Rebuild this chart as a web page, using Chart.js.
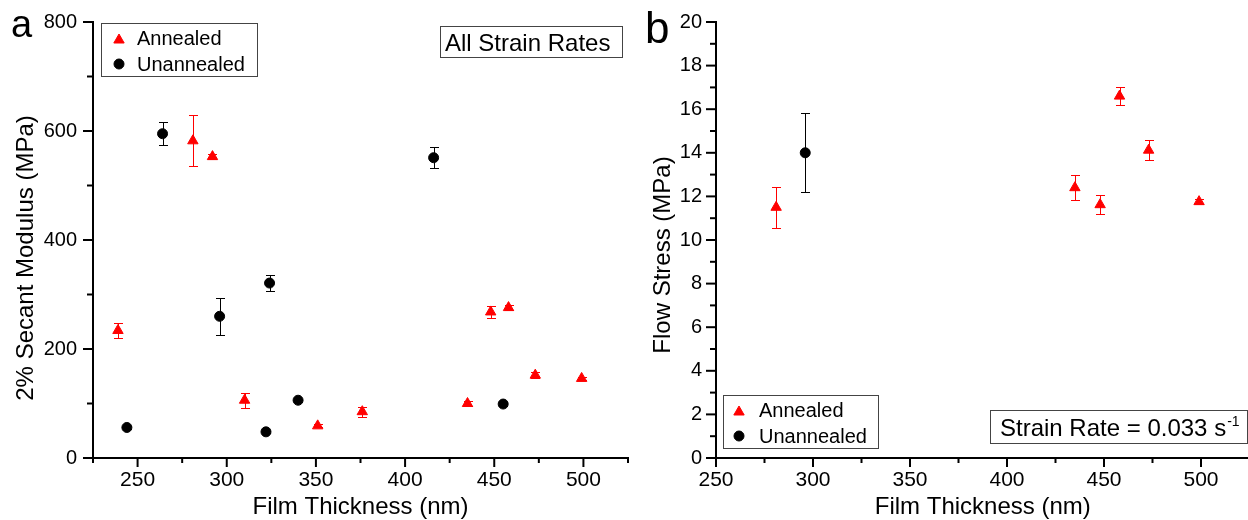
<!DOCTYPE html>
<html><head><meta charset="utf-8">
<script src="https://cdn.jsdelivr.net/npm/chart.js@4.4.0/dist/chart.umd.min.js"></script>
<style>
html,body{margin:0;padding:0;background:#fff;overflow:hidden;width:1248px;height:520px;position:relative}
#ca{position:absolute;left:0;top:0}
#cb{position:absolute;left:630px;top:0}
</style></head><body>
<canvas id="ca" width="630" height="520"></canvas>
<canvas id="cb" width="620" height="520"></canvas>
<script>
// ---------- Panel a data ----------
const annealedA_x   = [239, 281, 292, 310, 351, 376, 435, 448, 458, 473, 499];
const annealedA_y   = [234, 582, 553, 106, 59, 85, 100, 268, 276, 152, 146];
const annealedA_err = [13, 47, 5, 14, 3, 9, 4, 11, 5, 6, 3];
const unannealedA_x   = [244, 264, 296, 322, 324, 340, 416, 455];
const unannealedA_y   = [56, 595, 260, 48, 321, 106, 551, 99];
const unannealedA_err = [2, 21, 34, 2, 15, 3, 19, 3];
const xMajorA = [250, 300, 350, 400, 450, 500];
const xMinorA = [225, 275, 325, 375, 425, 475, 525];
const yMajorA = [0, 200, 400, 600, 800];
const yMinorA = [100, 300, 500, 700];

// ---------- Panel b data ----------
const annealedB_x   = [281, 435, 448, 458, 473, 499];
const annealedB_y   = [11.5, 12.4, 11.62, 16.6, 14.12, 11.76];
const annealedB_err = [0.95, 0.58, 0.43, 0.43, 0.47, 0.1];
const unannealedB_x   = [296];
const unannealedB_y   = [14.0];
const unannealedB_err = [1.82];
const xMajorB = [250, 300, 350, 400, 450, 500];
const xMinorB = [275, 325, 375, 425, 475, 525];
const yMajorB = [0, 2, 4, 6, 8, 10, 12, 14, 16, 18, 20];
const yMinorB = [1, 3, 5, 7, 9, 11, 13, 15, 17, 19];

const FONT = "'Liberation Sans', Arial, sans-serif";
const RED = '#ff0000';

function pts(xs, ys) { return xs.map((v, i) => ({x: v, y: ys[i]})); }

function makeDeco(cfg) {
  return {
    id: 'deco',
    beforeDatasetsDraw(chart) {
      const {ctx} = chart; const x = chart.scales.x, y = chart.scales.y;
      ctx.save();
      cfg.errSets.forEach(s => {
        ctx.strokeStyle = s.color; ctx.lineWidth = 1;
        s.x.forEach((xv, i) => {
          const px = Math.round(x.getPixelForValue(xv)) + 0.5;
          const top = Math.round(y.getPixelForValue(s.y[i] + s.err[i])) + 0.5;
          const bot = Math.round(y.getPixelForValue(s.y[i] - s.err[i])) + 0.5;
          ctx.beginPath();
          ctx.moveTo(px, top); ctx.lineTo(px, bot);
          ctx.moveTo(px - 4.5, top); ctx.lineTo(px + 4.5, top);
          ctx.moveTo(px - 4.5, bot); ctx.lineTo(px + 4.5, bot);
          ctx.stroke();
        });
      });
      ctx.restore();
    },
    afterDraw(chart) {
      const {ctx} = chart; const x = chart.scales.x, y = chart.scales.y;
      ctx.save();
      ctx.strokeStyle = '#000'; ctx.lineWidth = 2;
      const b = y.getPixelForValue(y.min), l = x.getPixelForValue(x.min);
      const tx = (vals, len) => vals.forEach(v => {
        const p = x.getPixelForValue(v); if (p > chart.width + 2) return;
        ctx.beginPath(); ctx.moveTo(p, b); ctx.lineTo(p, b + len); ctx.stroke();
      });
      const ty = (vals, len) => vals.forEach(v => {
        const p = y.getPixelForValue(v);
        ctx.beginPath(); ctx.moveTo(l, p); ctx.lineTo(l - len, p); ctx.stroke();
      });
      tx(cfg.xMajor, 9); tx(cfg.xMinor, 5); ty(cfg.yMajor, 10); ty(cfg.yMinor, 6);

      ctx.fillStyle = '#000';
      ctx.textBaseline = 'alphabetic'; ctx.textAlign = 'left';

      // y-axis title (rotated)
      const Y = cfg.ytitle;
      ctx.save();
      ctx.translate(Y.x, Y.y); ctx.rotate(-Math.PI / 2);
      ctx.font = '24px ' + FONT; ctx.textAlign = 'center'; ctx.textBaseline = 'middle';
      ctx.fillText(Y.text, 0, 0);
      ctx.restore();

      // panel letter
      ctx.font = cfg.letter.size + 'px ' + FONT;
      ctx.fillText(cfg.letter.text, cfg.letter.x, cfg.letter.y);

      // legend
      const L = cfg.legend;
      ctx.strokeStyle = '#444'; ctx.lineWidth = 1;
      ctx.strokeRect(L.x + 0.5, L.y + 0.5, L.w, L.h);
      ctx.fillStyle = RED; ctx.strokeStyle = RED; ctx.lineWidth = 1;
      Chart.helpers.drawPoint(ctx, {pointStyle: 'triangle', radius: 6, borderWidth: 1}, L.mx, L.my1);
      ctx.fillStyle = '#000'; ctx.strokeStyle = '#000';
      Chart.helpers.drawPoint(ctx, {pointStyle: 'circle', radius: 5, borderWidth: 1}, L.mx, L.my2);
      ctx.fillStyle = '#000';
      ctx.font = '20px ' + FONT;
      ctx.fillText('Annealed', L.tx, L.ty1);
      ctx.fillText('Unannealed', L.tx, L.ty2);

      // note box
      const N = cfg.note;
      ctx.strokeStyle = '#444'; ctx.lineWidth = 1;
      ctx.strokeRect(N.x + 0.5, N.y + 0.5, N.w, N.h);
      ctx.fillStyle = '#000';
      ctx.font = '24px ' + FONT;
      ctx.fillText(N.text, N.tx, N.ty);
      if (N.sup) {
        const w = ctx.measureText(N.text).width;
        ctx.font = '14px ' + FONT;
        ctx.fillText(N.sup, N.tx + w + 1, N.ty - 10);
      }
      ctx.restore();
    }
  };
}

function makeChart(id, o) {
  const chart = new Chart(document.getElementById(id), {
    type: 'scatter',
    data: {
      datasets: [
        {label: 'Annealed', data: pts(o.ax, o.ay), pointStyle: 'triangle', pointRadius: 6,
         backgroundColor: RED, borderColor: RED, borderWidth: 1},
        {label: 'Unannealed', data: pts(o.ux, o.uy), pointStyle: 'circle', pointRadius: 5,
         backgroundColor: '#000', borderColor: '#000', borderWidth: 1}
      ]
    },
    options: {
      responsive: false, animation: false, events: [],
      layout: {autoPadding: false, padding: Object.assign({}, o.pad)},
      plugins: {legend: {display: false}, tooltip: {enabled: false}},
      scales: {
        x: {
          type: 'linear', min: o.xmin, max: o.xmax,
          afterBuildTicks: s => { s.ticks = o.xMajor.map(v => ({value: v})); },
          afterFit: s => { s.height = o.xHeight; s.paddingLeft = 0; s.paddingRight = 0; },
          grid: {display: false, drawTicks: true, tickLength: 10},
          border: {display: true, color: '#000', width: 2},
          ticks: {color: '#000', font: {family: FONT, size: 21}, padding: 0, maxRotation: 0, autoSkip: false},
          title: {display: true, text: 'Film Thickness (nm)', color: '#000',
                  font: {family: FONT, size: 24, lineHeight: 1}, padding: {top: 0, bottom: 1}}
        },
        y: {
          type: 'linear', min: o.ymin, max: o.ymax,
          afterBuildTicks: s => { s.ticks = o.yMajor.map(v => ({value: v})); },
          afterFit: s => { s.width = o.yWidth; s.paddingTop = 0; s.paddingBottom = 0; },
          grid: {display: false, drawTicks: true, tickLength: o.yPad},
          border: {display: true, color: '#000', width: 2},
          ticks: {color: '#000', font: {family: FONT, size: 20}, padding: 0, autoSkip: false},
          title: {display: false}
        }
      }
    },
    plugins: [makeDeco(o.deco)]
  });
  // make the value range land exactly on the target frame
  const T = o.area;
  for (let k = 0; k < 8; k++) {
    const x = chart.scales.x, y = chart.scales.y;
    const dl = T.left - x.getPixelForValue(o.xmin);
    const dr = T.right - x.getPixelForValue(o.xmax);
    const dt = T.top - y.getPixelForValue(o.ymax);
    const db = T.bottom - y.getPixelForValue(o.ymin);
    if (Math.abs(dt) + Math.abs(dl) + Math.abs(dr) + Math.abs(db) < 0.3) break;
    o.pad.top += dt; o.pad.right -= dr; o.yWidth += dl; o.xHeight -= db;
    chart.config.options.layout.padding = Object.assign({}, o.pad);
    chart.update();
  }
  return chart;
}

makeChart('ca', {
  ax: annealedA_x, ay: annealedA_y, ux: unannealedA_x, uy: unannealedA_y,
  xmin: 225, xmax: 525, ymin: 0, ymax: 800, xMajor: xMajorA, yMajor: yMajorA,
  yWidth: 93, xHeight: 62, yPad: 16,
  pad: {top: 22, left: 0, right: 2, bottom: 0},
  area: {left: 93, right: 628, top: 22, bottom: 458},
  deco: {
    errSets: [
      {x: annealedA_x, y: annealedA_y, err: annealedA_err, color: RED},
      {x: unannealedA_x, y: unannealedA_y, err: unannealedA_err, color: '#000'}
    ],
    xMajor: xMajorA, xMinor: xMinorA, yMajor: yMajorA, yMinor: yMinorA,
    ytitle: {text: '2% Secant Modulus (MPa)', x: 26, y: 258},
    letter: {text: 'a', x: 11, y: 37, size: 38},
    legend: {x: 101, y: 23, w: 156, h: 53, mx: 119, my1: 40, my2: 64, tx: 137, ty1: 45, ty2: 71},
    note: {x: 440, y: 26, w: 182, h: 31, text: 'All Strain Rates', tx: 445, ty: 51}
  }
});

makeChart('cb', {
  ax: annealedB_x, ay: annealedB_y, ux: unannealedB_x, uy: unannealedB_y,
  xmin: 250, xmax: 525, ymin: 0, ymax: 20, xMajor: xMajorB, yMajor: yMajorB,
  yWidth: 86, xHeight: 62, yPad: 14,
  pad: {top: 22, left: 0, right: 0.5, bottom: 0},
  area: {left: 86, right: 619.5, top: 22, bottom: 458},
  deco: {
    errSets: [
      {x: annealedB_x, y: annealedB_y, err: annealedB_err, color: RED},
      {x: unannealedB_x, y: unannealedB_y, err: unannealedB_err, color: '#000'}
    ],
    xMajor: xMajorB, xMinor: xMinorB, yMajor: yMajorB, yMinor: yMinorB,
    ytitle: {text: 'Flow Stress (MPa)', x: 33, y: 255},
    letter: {text: 'b', x: 15, y: 43, size: 44},
    legend: {x: 93, y: 395, w: 155, h: 53, mx: 109, my1: 412, my2: 436, tx: 129, ty1: 417, ty2: 443},
    note: {x: 360, y: 410, w: 257, h: 33, text: 'Strain Rate = 0.033 s', tx: 370, ty: 436, sup: '-1'}
  }
});
</script>
</body></html>
